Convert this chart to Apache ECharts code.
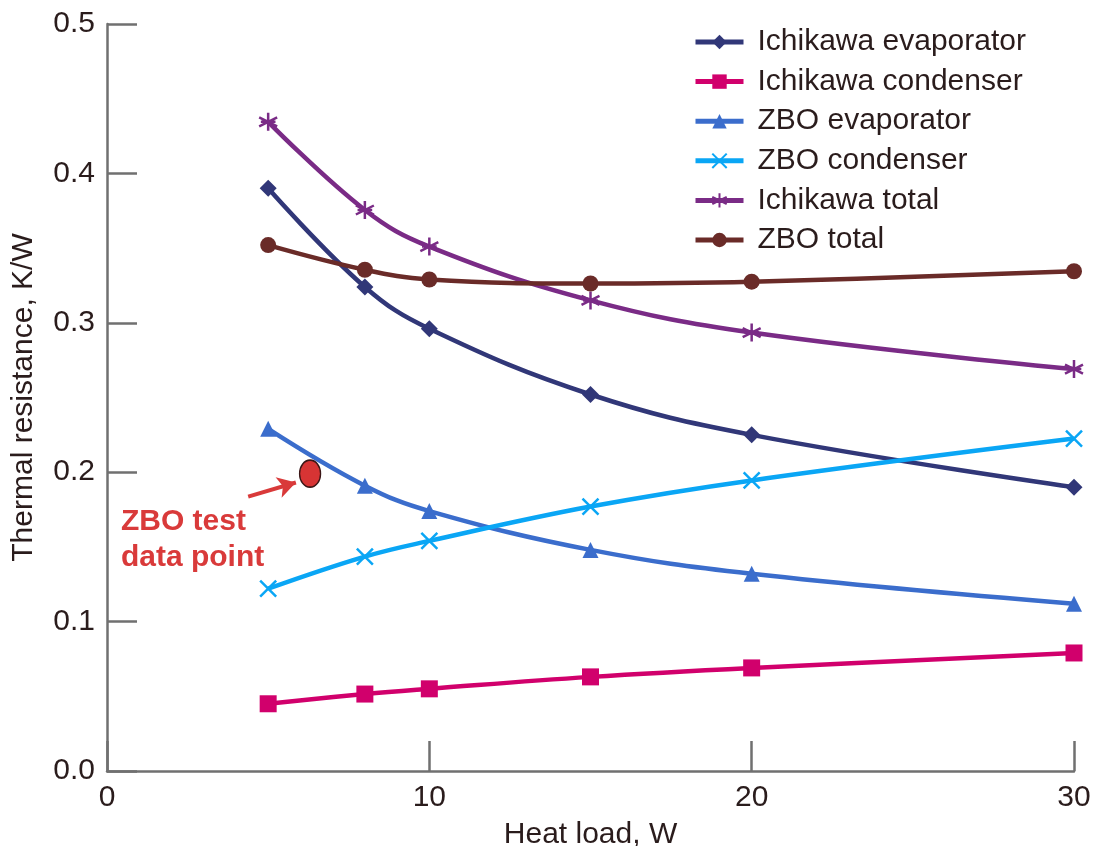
<!DOCTYPE html>
<html>
<head>
<meta charset="utf-8">
<script src="https://cdn.jsdelivr.net/npm/echarts@6/dist/echarts.min.js"></script>
<style>
html,body{margin:0;padding:0;background:#fff;}
#chart{width:1095px;height:846px;}
</style>
</head>
<body>
<div id="chart"></div>
<script>
// ---- data ----
var heatLoad = [5, 8, 10, 15, 20, 30];
var ichikawaEvaporator = [0.390, 0.324, 0.296, 0.252, 0.225, 0.190];
var ichikawaCondenser = [0.045, 0.0515, 0.055, 0.063, 0.069, 0.079];
var zboEvaporator = [0.229, 0.191, 0.174, 0.148, 0.132, 0.112];
var zboCondenser = [0.122, 0.1435, 0.154, 0.177, 0.1945, 0.2225];
var ichikawaTotal = [0.4345, 0.3755, 0.351, 0.315, 0.2935, 0.269];
var zboTotal = [0.352, 0.3355, 0.329, 0.3263, 0.3275, 0.3345];
var testPoint = [6.3, 0.199];
var testArrowFrom = [4.38, 0.1837];
var testArrowTo = [5.86, 0.1931];
var xTicks = [0, 10, 20, 30];
var yTicks = [0.0, 0.1, 0.2, 0.3, 0.4, 0.5];
var seriesNames = ['Ichikawa evaporator', 'Ichikawa condenser', 'ZBO evaporator', 'ZBO condenser', 'Ichikawa total', 'ZBO total'];

function pairs(ys) { return heatLoad.map(function (x, i) { return [x, ys[i]]; }); }

var FONT = "'Liberation Sans', Arial, Helvetica, sans-serif";
var FS = 30;
var TXT = '#2a1c1c';
var AX = '#707070';

function lineSeries(name, ys, color, symbol, size, stroke) {
  return {
    name: name, type: 'line', data: pairs(ys), smooth: 0.4,
    symbol: symbol, symbolSize: size,
    lineStyle: { color: color, width: 4.5 },
    itemStyle: { color: color, borderColor: color, borderWidth: stroke ? 2.5 : 0, opacity: 1 },
    emphasis: { disabled: true }, z: 3
  };
}

var chart = echarts.init(document.getElementById('chart'));
chart.setOption({
  animation: false,
  backgroundColor: '#fff',
  textStyle: { fontFamily: FONT },
  grid: { left: 107, right: 21, top: 24, bottom: 75, containLabel: false, outerBoundsMode: 'none' },
  legend: {
    data: seriesNames, orient: 'vertical', left: 693, top: 27, padding: 0,
    itemWidth: 48, itemHeight: 18, itemGap: 9.6,
    lineStyle: { width: 5 },
    textStyle: { fontFamily: FONT, fontSize: FS, color: TXT, lineHeight: 30, padding: [0, 0, 0, 9] }
  },
  xAxis: {
    type: 'value', min: 0, max: 30, interval: 10,
    name: 'Heat load, W', nameLocation: 'middle', nameGap: 49,
    nameTextStyle: { fontFamily: FONT, fontSize: FS, color: TXT },
    axisLine: { show: true, onZero: false, lineStyle: { color: AX, width: 2.5 } },
    axisTick: { show: true, inside: true, length: 30, lineStyle: { color: AX, width: 2.5 } },
    axisLabel: { fontFamily: FONT, fontSize: FS, color: TXT, margin: 12,
      formatter: function (v) { return xTicks.indexOf(v) >= 0 ? String(v) : ''; } },
    splitLine: { show: false }
  },
  yAxis: {
    type: 'value', min: 0, max: 0.5, interval: 0.1,
    name: 'Thermal resistance, K/W', nameLocation: 'middle', nameGap: 68,
    nameTextStyle: { fontFamily: FONT, fontSize: FS, color: TXT },
    axisLine: { show: true, onZero: false, lineStyle: { color: AX, width: 2.5 } },
    axisTick: { show: true, inside: true, length: 30, lineStyle: { color: AX, width: 2.5 } },
    axisLabel: { fontFamily: FONT, fontSize: FS, color: TXT, margin: 12,
      formatter: function (v) {
        var t = yTicks.filter(function (y) { return Math.abs(y - v) < 1e-9; });
        return t.length ? t[0].toFixed(1) : '';
      } },
    splitLine: { show: false }
  },
  series: [
    lineSeries(seriesNames[0], ichikawaEvaporator, '#313778', 'diamond', 17, false),
    lineSeries(seriesNames[1], ichikawaCondenser, '#d1006c', 'rect', 17, false),
    lineSeries(seriesNames[2], zboEvaporator, '#3b6dcc', 'triangle', 16, false),
    lineSeries(seriesNames[3], zboCondenser, '#0aa6f5', 'path://M0,0L10,10M10,0L0,10', 16, true),
    lineSeries(seriesNames[4], ichikawaTotal, '#7a2b86', 'path://M5,0L5,10M0.7,2.5L9.3,7.5M0.7,7.5L9.3,2.5M1.5,5L8.5,5', 18, true),
    lineSeries(seriesNames[5], zboTotal, '#6a2b28', 'circle', 16, false),
    {
      name: 'ZBO test data point', type: 'scatter', data: [testPoint],
      symbol: 'circle', symbolSize: [21, 27], z: 5,
      itemStyle: { color: '#d73434', borderColor: '#3a1616', borderWidth: 1.5, opacity: 1 },
      label: {
        show: true, formatter: 'ZBO test\ndata point', position: [-178, 44],
        align: 'left', verticalAlign: 'top', opacity: 1,
        fontFamily: FONT, fontSize: FS, fontWeight: 'bold', color: '#d93a3a', lineHeight: 36
      },
      emphasis: { disabled: true },
      markLine: {
        silent: true, symbol: ['none', 'arrow'], symbolSize: [16, 18],
        lineStyle: { color: '#d93a3a', width: 4, type: 'solid', opacity: 1 },
        label: { show: false },
        data: [[{ coord: testArrowFrom }, { coord: testArrowTo }]]
      }
    }
  ]
});
</script>
</body>
</html>
